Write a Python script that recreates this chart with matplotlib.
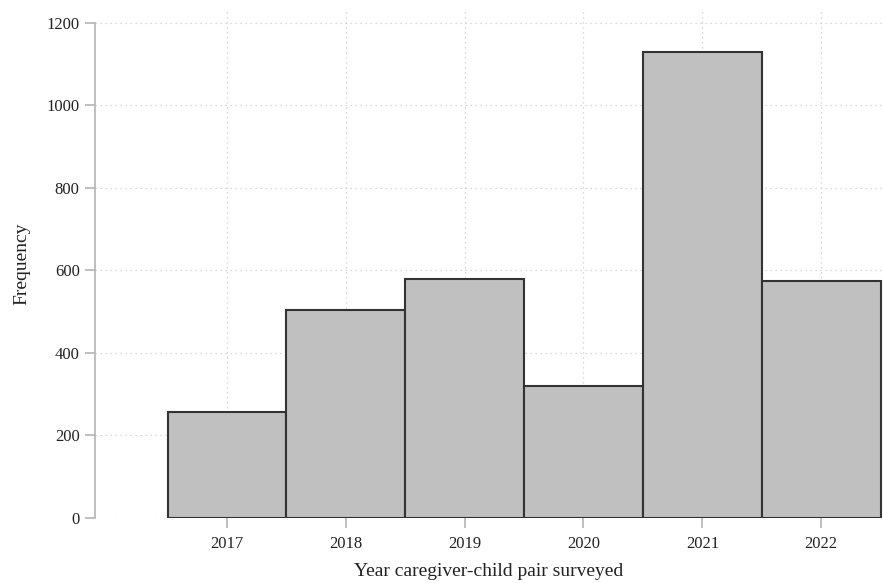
import matplotlib
matplotlib.use("Agg")
import matplotlib.pyplot as plt

# Survey years and how many caregiver-child pairs per year
years = [2017, 2018, 2019, 2020, 2021, 2022]
counts = [257, 504, 578, 321, 1130, 575]
yticks = [0, 200, 400, 600, 800, 1000, 1200]

plt.rcParams['font.family'] = ['Liberation Serif', 'DejaVu Serif']

fig = plt.figure(figsize=(8.83, 5.83), dpi=100)
ax = fig.add_axes([0.1076, 0.1115, 0.8924, 0.8715])

grey = "#b4b4b4"

ax.bar(years, counts, width=1.0, color="#c0c0c0", edgecolor="#333333",
       linewidth=1.5, zorder=3)

ax.set_xlim(2015.89, 2022.52)
ax.set_ylim(0, 1231)
ax.set_xticks(years)
ax.set_yticks(yticks)

ax.grid(True, linestyle=(0, (1, 3)), color="#cccccc", linewidth=0.9, zorder=0)

for side in ["top", "right", "bottom"]:
    ax.spines[side].set_visible(False)
ax.spines["left"].set_color(grey)
ax.spines["left"].set_linewidth(1.2)
ax.spines["left"].set_bounds(0, 1200)

ax.tick_params(axis="both", colors=grey, length=7, width=1.2, labelsize=12,
               labelcolor="#222222", pad=4)
ax.tick_params(axis="x", pad=6)

ax.set_ylabel("Frequency", fontsize=14, color="#222222", labelpad=12)
ax.set_xlabel("Year caregiver-child pair surveyed", fontsize=14,
              color="#222222", labelpad=8)

fig.savefig("out.png", dpi=100)
